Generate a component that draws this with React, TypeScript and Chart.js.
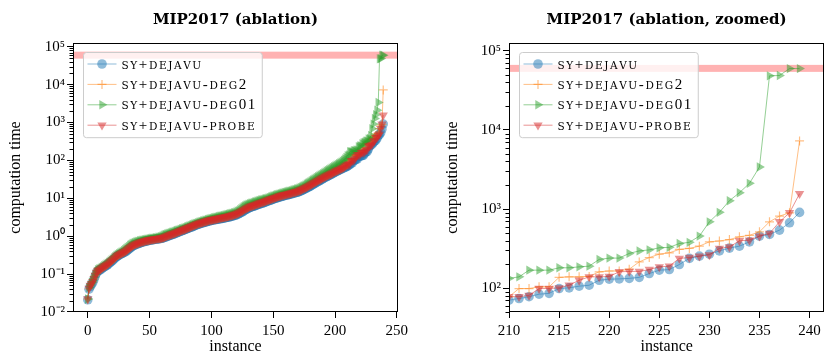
import { useEffect, useRef } from 'react';
import { Chart, registerables } from 'chart.js';

Chart.register(...registerables);

// ---------------- data ----------------
const INSTANCES = Array.from({ length: 240 }, (_, i) => i);

const SY_DEJAVU = [
  0.021, 0.040, 0.047, 0.053, 0.060, 0.072, 0.088, 0.105, 0.118, 0.124,
  0.130, 0.138, 0.145, 0.152, 0.160, 0.168, 0.176, 0.188, 0.200, 0.214,
  0.228, 0.245, 0.262, 0.285, 0.300, 0.312, 0.325, 0.340, 0.355, 0.368,
  0.380, 0.400, 0.425, 0.452, 0.480, 0.510, 0.540, 0.565, 0.585, 0.605,
  0.620, 0.640, 0.660, 0.678, 0.695, 0.710, 0.725, 0.740, 0.752, 0.765,
  0.780, 0.790, 0.800, 0.810, 0.820, 0.830, 0.840, 0.850, 0.860, 0.870,
  0.880, 0.900, 0.925, 0.950, 0.980, 1.01, 1.04, 1.07, 1.10, 1.12,
  1.15, 1.19, 1.23, 1.27, 1.31, 1.35, 1.39, 1.43, 1.47, 1.51,
  1.55, 1.60, 1.65, 1.70, 1.75, 1.80, 1.86, 1.92, 1.98, 2.04,
  2.10, 2.15, 2.20, 2.25, 2.30, 2.35, 2.40, 2.45, 2.50, 2.55,
  2.60, 2.64, 2.68, 2.72, 2.76, 2.80, 2.84, 2.88, 2.92, 2.96,
  3.00, 3.05, 3.10, 3.15, 3.20, 3.26, 3.32, 3.40, 3.48, 3.55,
  3.62, 3.75, 3.90, 4.05, 4.22, 4.40, 4.60, 4.85, 5.05, 5.25,
  5.50, 5.70, 5.85, 6.00, 6.15, 6.30, 6.50, 6.70, 6.90, 7.05,
  7.20, 7.40, 7.60, 7.80, 8.00, 8.25, 8.50, 8.75, 9.00, 9.25,
  9.50, 9.75, 10.0, 10.2, 10.5, 10.8, 11.0, 11.3, 11.5, 11.8,
  12.0, 12.2, 12.4, 12.7, 12.9, 13.2, 13.5, 13.8, 14.1, 14.3,
  14.6, 15.0, 15.5, 16.0, 16.6, 17.2, 17.9, 18.6, 19.4, 20.2,
  21.0, 22.0, 23.0, 24.0, 25.0, 26.2, 27.4, 28.6, 29.8, 31.0,
  32.5, 34.0, 35.5, 37.0, 38.5, 40.0, 41.5, 43.0, 45.0, 47.0,
  49.0, 51.0, 53.0, 55.0, 57.0, 59.0, 61.0, 63.5, 66.0, 68.0,
  70.5, 74, 78, 84, 86, 99, 101, 106, 109, 126,
  130, 131, 133, 137, 153, 169, 172, 199, 238, 254,
  269, 296, 321, 340, 385, 455, 478, 542, 671, 908,
];

const SY_DEJAVU_DEG2 = [
  0.022, 0.041, 0.049, 0.055, 0.062, 0.075, 0.091, 0.108, 0.120, 0.127,
  0.133, 0.141, 0.148, 0.156, 0.164, 0.172, 0.181, 0.193, 0.206, 0.220,
  0.234, 0.251, 0.269, 0.292, 0.308, 0.321, 0.334, 0.348, 0.364, 0.378,
  0.392, 0.414, 0.440, 0.468, 0.496, 0.528, 0.558, 0.584, 0.604, 0.624,
  0.640, 0.660, 0.680, 0.698, 0.715, 0.730, 0.745, 0.760, 0.773, 0.786,
  0.800, 0.810, 0.820, 0.830, 0.840, 0.850, 0.860, 0.870, 0.880, 0.890,
  0.900, 0.925, 0.955, 0.985, 1.015, 1.045, 1.075, 1.105, 1.135, 1.165,
  1.195, 1.235, 1.275, 1.315, 1.355, 1.395, 1.435, 1.475, 1.515, 1.56,
  1.61, 1.66, 1.71, 1.77, 1.83, 1.89, 1.95, 2.01, 2.07, 2.13,
  2.19, 2.24, 2.29, 2.34, 2.39, 2.45, 2.51, 2.57, 2.62, 2.67,
  2.71, 2.75, 2.79, 2.83, 2.87, 2.92, 2.97, 3.02, 3.07, 3.12,
  3.17, 3.22, 3.27, 3.32, 3.39, 3.46, 3.53, 3.61, 3.69, 3.77,
  3.85, 3.99, 4.14, 4.31, 4.49, 4.69, 4.91, 5.14, 5.37, 5.59,
  5.84, 6.04, 6.21, 6.37, 6.54, 6.71, 6.89, 7.09, 7.29, 7.49,
  7.69, 7.89, 8.09, 8.31, 8.54, 8.79, 9.04, 9.29, 9.54, 9.79,
  10.1, 10.4, 10.6, 10.9, 11.2, 11.5, 11.7, 12.0, 12.2, 12.5,
  12.8, 13.0, 13.3, 13.5, 13.8, 14.1, 14.4, 14.7, 15.0, 15.3,
  15.6, 16.1, 16.6, 17.2, 17.8, 18.5, 19.2, 20.0, 20.8, 21.7,
  22.6, 23.6, 24.7, 25.8, 26.9, 28.1, 29.3, 30.6, 31.9, 33.3,
  34.7, 36.1, 37.6, 39.1, 40.6, 42.1, 43.7, 45.3, 47.1, 49.1,
  51.1, 53.1, 55.1, 57.1, 59.1, 61.1, 63.6, 66.1, 70.1, 74.1,
  78, 99, 99, 104, 104, 137, 139, 139, 141, 161,
  165, 165, 174, 215, 244, 269, 280, 309, 318, 340,
  385, 395, 412, 446, 466, 516, 690, 815, 897, 7260,
];

const SY_DEJAVU_DEG01 = [
  0.022, 0.044, 0.052, 0.060, 0.068, 0.082, 0.100, 0.118, 0.130, 0.136,
  0.142, 0.150, 0.158, 0.166, 0.175, 0.184, 0.194, 0.206, 0.220, 0.235,
  0.250, 0.268, 0.288, 0.310, 0.330, 0.345, 0.360, 0.378, 0.398, 0.420,
  0.445, 0.475, 0.505, 0.540, 0.575, 0.610, 0.640, 0.665, 0.688, 0.708,
  0.725, 0.742, 0.758, 0.772, 0.786, 0.800, 0.812, 0.824, 0.836, 0.848,
  0.860, 0.870, 0.880, 0.890, 0.900, 0.910, 0.920, 0.935, 0.950, 0.970,
  1.00, 1.05, 1.09, 1.12, 1.15, 1.18, 1.21, 1.24, 1.27, 1.30,
  1.33, 1.37, 1.41, 1.45, 1.49, 1.53, 1.57, 1.61, 1.66, 1.71,
  1.76, 1.81, 1.86, 1.92, 1.98, 2.04, 2.10, 2.16, 2.22, 2.28,
  2.34, 2.40, 2.46, 2.52, 2.58, 2.64, 2.70, 2.76, 2.82, 2.88,
  2.94, 3.00, 3.06, 3.12, 3.18, 3.24, 3.30, 3.36, 3.42, 3.48,
  3.54, 3.60, 3.67, 3.74, 3.82, 3.90, 3.98, 4.06, 4.15, 4.25,
  4.38, 4.55, 4.75, 5.00, 5.30, 5.65, 6.00, 6.30, 6.55, 6.80,
  7.00, 7.20, 7.40, 7.60, 7.80, 8.00, 8.20, 8.40, 8.60, 8.80,
  9.00, 9.20, 9.40, 9.60, 9.80, 10.0, 10.3, 10.6, 10.9, 11.2,
  11.5, 11.8, 12.1, 12.4, 12.7, 13.0, 13.3, 13.6, 13.9, 14.2,
  14.5, 14.8, 15.1, 15.4, 15.7, 16.0, 16.4, 16.8, 17.2, 17.6,
  18.0, 18.6, 19.3, 20.0, 20.8, 21.7, 22.7, 23.8, 25.0, 26.3,
  27.6, 29.0, 30.5, 32.0, 33.6, 35.3, 37.0, 38.8, 40.7, 42.7,
  44.8, 47.0, 49.3, 51.7, 54.2, 56.8, 59.5, 62.3, 65.2, 68.2,
  71.3, 74.5, 78.0, 82.0, 86.0, 90.0, 95.0, 102, 110, 120,
  133, 139, 169, 169, 169, 181, 181, 186, 190, 231,
  240, 240, 275, 296, 305, 324, 328, 367, 380, 455,
  690, 910, 1275, 1610, 2115, 3400, 48300, 48800, 59700, 59700,
];

const SY_DEJAVU_PROBE = [
  0.022, 0.042, 0.050, 0.056, 0.063, 0.076, 0.092, 0.110, 0.122, 0.128,
  0.134, 0.142, 0.150, 0.158, 0.166, 0.174, 0.183, 0.195, 0.208, 0.222,
  0.236, 0.254, 0.272, 0.295, 0.312, 0.325, 0.338, 0.352, 0.368, 0.382,
  0.395, 0.418, 0.444, 0.472, 0.500, 0.532, 0.562, 0.588, 0.608, 0.628,
  0.645, 0.665, 0.685, 0.702, 0.720, 0.735, 0.750, 0.765, 0.778, 0.790,
  0.805, 0.815, 0.825, 0.835, 0.845, 0.855, 0.865, 0.875, 0.885, 0.895,
  0.905, 0.93, 0.96, 0.99, 1.02, 1.05, 1.08, 1.11, 1.14, 1.17,
  1.20, 1.24, 1.28, 1.32, 1.36, 1.40, 1.44, 1.48, 1.52, 1.57,
  1.62, 1.67, 1.72, 1.78, 1.84, 1.90, 1.96, 2.02, 2.08, 2.14,
  2.20, 2.25, 2.30, 2.35, 2.40, 2.46, 2.52, 2.58, 2.63, 2.68,
  2.72, 2.76, 2.80, 2.84, 2.88, 2.93, 2.98, 3.03, 3.08, 3.13,
  3.18, 3.23, 3.28, 3.33, 3.40, 3.47, 3.54, 3.62, 3.70, 3.78,
  3.86, 4.00, 4.15, 4.32, 4.50, 4.70, 4.92, 5.15, 5.38, 5.60,
  5.85, 6.05, 6.22, 6.38, 6.55, 6.72, 6.90, 7.10, 7.30, 7.50,
  7.70, 7.90, 8.10, 8.32, 8.55, 8.80, 9.05, 9.30, 9.55, 9.80,
  10.1, 10.4, 10.6, 10.9, 11.2, 11.5, 11.7, 12.0, 12.2, 12.5,
  12.7, 12.9, 13.2, 13.4, 13.7, 14.0, 14.3, 14.6, 14.9, 15.2,
  15.5, 16.0, 16.5, 17.1, 17.7, 18.4, 19.1, 19.9, 20.7, 21.6,
  22.5, 23.5, 24.6, 25.7, 26.8, 28.0, 29.2, 30.5, 31.8, 33.2,
  34.6, 36.0, 37.5, 39.0, 40.5, 42.0, 43.6, 45.2, 47.0, 49.0,
  51.0, 53.0, 55.0, 57.0, 59.0, 61.0, 63.5, 66.0, 70.0, 74.0,
  78, 78, 81, 99, 99, 101, 109, 126, 139, 139,
  141, 161, 163, 163, 172, 186, 190, 238, 244, 254,
  264, 318, 332, 397, 405, 455, 492, 690, 897, 1565,
];

const TIMEOUT = 60000;

const SERIES = [SY_DEJAVU, SY_DEJAVU_DEG2, SY_DEJAVU_DEG01, SY_DEJAVU_PROBE];
const SERIES_LABELS = ['SY+DEJAVU', 'SY+DEJAVU-DEG2', 'SY+DEJAVU-DEG01', 'SY+DEJAVU-PROBE'];

const TITLES = ['MIP2017 (ablation)', 'MIP2017 (ablation, zoomed)'];
const X_TITLE = 'instance';
const Y_TITLE = 'computation time';

const X_TICKS_FULL = [0, 50, 100, 150, 200, 250];
const X_TICKS_ZOOM = [210, 215, 220, 225, 230, 235, 240];
const Y_TICKS_FULL = [1e-2, 1e-1, 1, 10, 100, 1000, 1e4, 1e5];
const Y_TICKS_ZOOM = [100, 1000, 1e4, 1e5];

// ---------------- styles ----------------
type Style = { color: number[]; pointStyle: string; rotation: number; radius: number; stroke: boolean };
const STYLES: Style[] = [
  { color: [31, 119, 180], pointStyle: 'circle', rotation: 0, radius: 4.8, stroke: false },
  { color: [255, 127, 14], pointStyle: 'cross', rotation: 0, radius: 4.5, stroke: true },
  { color: [44, 160, 44], pointStyle: 'triangle', rotation: 90, radius: 5.4, stroke: false },
  { color: [214, 39, 40], pointStyle: 'triangle', rotation: 180, radius: 5.4, stroke: false },
];
const rgba = (c: number[], a: number) => `rgba(${c[0]},${c[1]},${c[2]},${a})`;

const TICK_FONT = { family: "'Liberation Serif'", size: 15 };
const AXIS_TITLE_FONT = { family: "'Liberation Serif'", size: 16, lineHeight: 1.2 };
const LEGEND_SMALL = "10.5px 'DejaVu Serif'";
const LEGEND_BIG = "15px 'Liberation Serif'";
const LEGEND_SPACING = 1.6;

const SUP: Record<string, string> = {
  '0': '⁰', '1': '¹', '2': '²', '3': '³', '4': '⁴', '5': '⁵',
  '6': '⁶', '7': '⁷', '8': '⁸', '9': '⁹', '-': '⁻',
};
const fmtPow = (v: number) => {
  const e = Math.round(Math.log10(v));
  return '10' + String(e).split('').map((c) => SUP[c]).join('');
};

function drawMarker(ctx: CanvasRenderingContext2D, st: Style, x: number, y: number) {
  const r = st.radius;
  ctx.beginPath();
  if (st.pointStyle === 'circle') {
    ctx.arc(x, y, r, 0, Math.PI * 2);
    ctx.fill();
  } else if (st.pointStyle === 'cross') {
    ctx.moveTo(x - r, y);
    ctx.lineTo(x + r, y);
    ctx.moveTo(x, y - r);
    ctx.lineTo(x, y + r);
    ctx.stroke();
  } else {
    let rad = (st.rotation * Math.PI) / 180;
    ctx.moveTo(x + Math.sin(rad) * r, y - Math.cos(rad) * r);
    rad += (2 * Math.PI) / 3;
    ctx.lineTo(x + Math.sin(rad) * r, y - Math.cos(rad) * r);
    rad += (2 * Math.PI) / 3;
    ctx.lineTo(x + Math.sin(rad) * r, y - Math.cos(rad) * r);
    ctx.closePath();
    ctx.fill();
  }
}

function labelRun(ctx: CanvasRenderingContext2D, text: string, x: number, y: number, draw: boolean) {
  let cx = x;
  for (const ch of text) {
    ctx.font = /[A-Z]/.test(ch) ? LEGEND_SMALL : LEGEND_BIG;
    if (draw) ctx.fillText(ch, cx, y);
    cx += ctx.measureText(ch).width + LEGEND_SPACING;
  }
  return cx - x - LEGEND_SPACING;
}

function makePlugins(title: string) {
  return [
    {
      id: 'mplTitle',
      afterDraw(chart: any) {
        const { ctx, chartArea } = chart;
        ctx.save();
        ctx.font = "bold 15px 'DejaVu Serif'";
        ctx.fillStyle = '#000';
        ctx.textAlign = 'center';
        ctx.textBaseline = 'alphabetic';
        ctx.fillText(title, (chartArea.left + chartArea.right) / 2, 24);
        ctx.restore();
      },
    },
    {
      id: 'timeoutBand',
      beforeDatasetsDraw(chart: any) {
        const { ctx, chartArea, scales } = chart;
        const y = scales.y.getPixelForValue(TIMEOUT);
        ctx.save();
        ctx.beginPath();
        ctx.rect(chartArea.left, chartArea.top, chartArea.right - chartArea.left, chartArea.bottom - chartArea.top);
        ctx.clip();
        ctx.fillStyle = 'rgba(255,0,0,0.3)';
        ctx.fillRect(chartArea.left, y - 3.5, chartArea.right - chartArea.left, 7);
        ctx.restore();
      },
    },
    {
      id: 'mplLegend',
      afterDatasetsDraw(chart: any) {
        const { ctx, chartArea } = chart;
        ctx.save();
        const bx = Math.round(chartArea.left) + 10.5;
        const by = Math.round(chartArea.top) + 9.5;
        const widths = SERIES_LABELS.map((l) => labelRun(ctx, l, 0, 0, false));
        const bw = 38 + Math.max(...widths) + 7;
        const rowH = 20.4;
        const bh = 11.5 + rowH * 3 + 12.5;
        ctx.beginPath();
        ctx.roundRect(bx, by, bw, bh, 3);
        ctx.fillStyle = 'rgba(255,255,255,0.8)';
        ctx.fill();
        ctx.strokeStyle = '#cccccc';
        ctx.lineWidth = 1;
        ctx.stroke();
        SERIES_LABELS.forEach((label, k) => {
          const st = STYLES[k];
          const col = rgba(st.color, 0.5);
          const cy = by + 11.5 + k * rowH;
          ctx.strokeStyle = col;
          ctx.lineWidth = 1;
          ctx.beginPath();
          ctx.moveTo(bx + 4, cy);
          ctx.lineTo(bx + 33, cy);
          ctx.stroke();
          ctx.fillStyle = col;
          ctx.lineWidth = 1.2;
          drawMarker(ctx, st, bx + 18.5, cy);
          ctx.fillStyle = '#000';
          ctx.textAlign = 'left';
          ctx.textBaseline = 'alphabetic';
          labelRun(ctx, label, bx + 38, cy + 4.5, true);
        });
        ctx.restore();
      },
    },
    {
      id: 'frameAndMinor',
      afterDraw(chart: any) {
        const { ctx, chartArea, scales } = chart;
        const ys = scales.y;
        ctx.save();
        ctx.strokeStyle = '#000';
        ctx.lineWidth = 1;
        const L = Math.round(chartArea.left);
        const T = Math.round(chartArea.top);
        const R = Math.round(chartArea.right);
        const B = Math.round(chartArea.bottom);
        ctx.strokeRect(L + 0.5, T + 0.5, R - L - 1, B - T - 1);
        ctx.beginPath();
        const lo = Math.floor(Math.log10(ys.min));
        const hi = Math.ceil(Math.log10(ys.max));
        for (let n = lo; n <= hi; n++) {
          for (let k = 2; k <= 9; k++) {
            const v = k * Math.pow(10, n);
            if (v < ys.min || v > ys.max) continue;
            const y = Math.round(ys.getPixelForValue(v)) + 0.5;
            ctx.moveTo(L - 3.5, y);
            ctx.lineTo(L, y);
          }
        }
        ctx.stroke();
        ctx.restore();
      },
    },
  ];
}

function makeConfig(zoomed: boolean): any {
  const datasets = SERIES.map((values, k) => {
    const st = STYLES[k];
    const col = rgba(st.color, 0.5);
    return {
      label: SERIES_LABELS[k],
      data: INSTANCES.map((x, i) => ({ x, y: values[i] })),
      borderColor: col,
      backgroundColor: col,
      borderWidth: 1,
      pointStyle: st.pointStyle,
      pointRotation: st.rotation,
      pointRadius: st.radius,
      pointHoverRadius: st.radius,
      pointBackgroundColor: col,
      pointBorderColor: col,
      pointBorderWidth: st.stroke ? 1.2 : 0,
      tension: 0,
      order: 4 - k,
    };
  });
  const xt = zoomed ? X_TICKS_ZOOM : X_TICKS_FULL;
  const yt = zoomed ? Y_TICKS_ZOOM : Y_TICKS_FULL;
  const grid = { display: true, drawOnChartArea: false, drawTicks: true, tickLength: 6, color: '#000', lineWidth: 1 };
  return {
    type: 'line',
    data: { datasets },
    plugins: makePlugins(zoomed ? TITLES[1] : TITLES[0]),
    options: {
      responsive: false,
      maintainAspectRatio: false,
      animation: false,
      devicePixelRatio: 1,
      events: [],
      layout: { padding: { top: 43, left: 0, right: zoomed ? 1 : 17, bottom: 0 } },
      plugins: { legend: { display: false }, tooltip: { enabled: false }, title: { display: false } },
      scales: {
        x: {
          type: 'linear',
          min: zoomed ? 210 : -11.95,
          max: zoomed ? 241.47 : 250.95,
          afterBuildTicks: (s: any) => {
            s.ticks = xt.map((v) => ({ value: v }));
          },
          afterFit: (s: any) => {
            s.height = 44;
          },
          ticks: { font: TICK_FONT, color: '#000', padding: 4, autoSkip: false, maxRotation: 0, callback: (v: any) => String(v) },
          grid,
          border: { display: false },
          title: { display: true, text: X_TITLE, font: AXIS_TITLE_FONT, color: '#000', padding: { top: 0, bottom: 0 } },
        },
        y: {
          type: 'logarithmic',
          min: zoomed ? 50 : 0.00998,
          max: 1.256e5,
          afterBuildTicks: (s: any) => {
            s.ticks = yt.map((v) => ({ value: v }));
          },
          afterFit: (s: any) => {
            s.width = zoomed ? 94 : 73;
          },
          ticks: { font: TICK_FONT, color: '#000', padding: 2, autoSkip: false, callback: (v: any) => fmtPow(Number(v)) },
          grid,
          border: { display: false },
          title: {
            display: true,
            text: Y_TITLE,
            font: AXIS_TITLE_FONT,
            color: '#000',
            padding: { top: zoomed ? 28 : 6.4, bottom: 0 },
          },
        },
      },
    },
  };
}

export default function App() {
  const leftRef = useRef<HTMLCanvasElement>(null);
  const rightRef = useRef<HTMLCanvasElement>(null);
  useEffect(() => {
    const a = new Chart(leftRef.current as HTMLCanvasElement, makeConfig(false));
    const b = new Chart(rightRef.current as HTMLCanvasElement, makeConfig(true));
    return () => {
      a.destroy();
      b.destroy();
    };
  }, []);
  return (
    <div style={{ position: 'absolute', left: 0, top: 0, width: 830, height: 356, background: '#fff' }}>
      <canvas ref={leftRef} width={415} height={356} style={{ position: 'absolute', left: 0, top: 0, width: 415, height: 356 }} />
      <canvas ref={rightRef} width={415} height={356} style={{ position: 'absolute', left: 415, top: 0, width: 415, height: 356 }} />
    </div>
  );
}
